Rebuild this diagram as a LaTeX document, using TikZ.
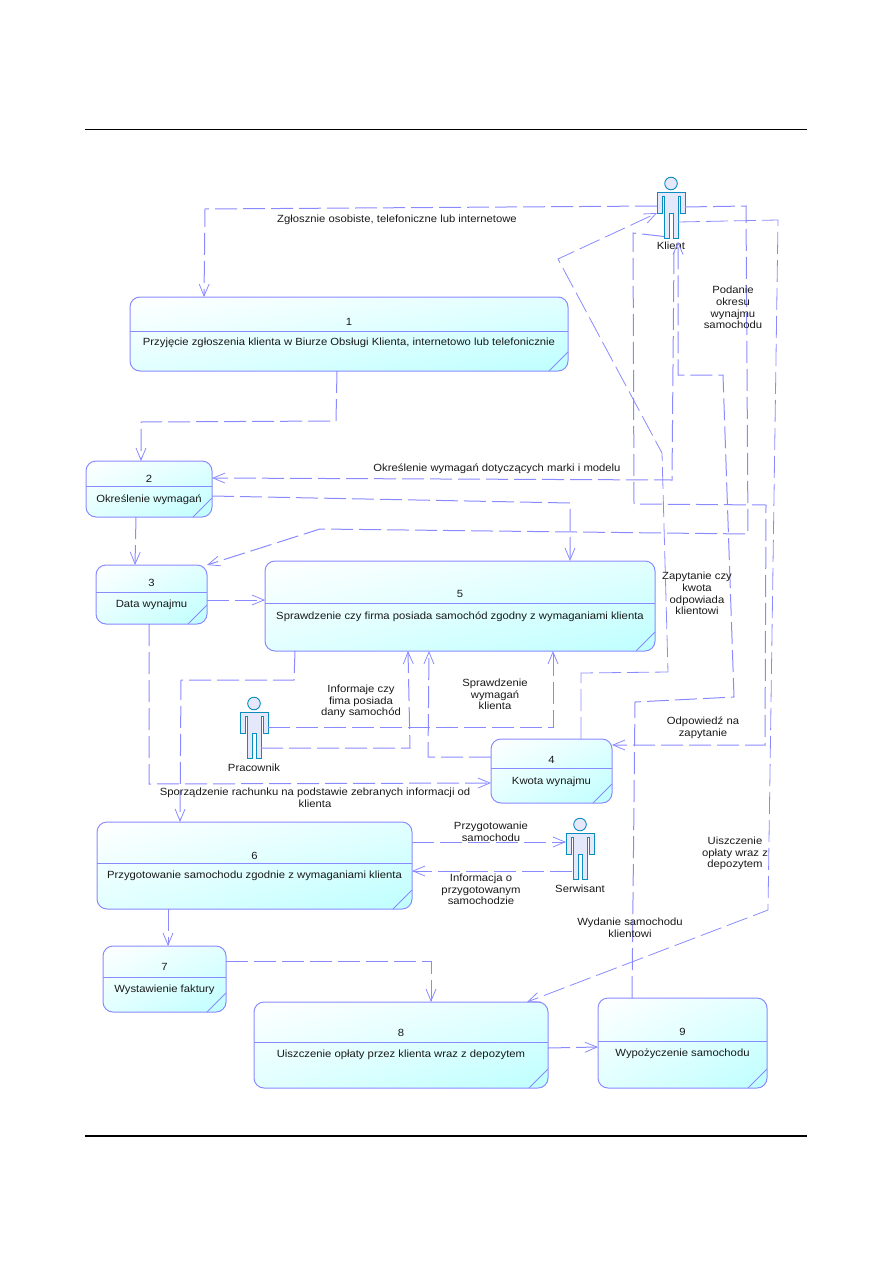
\documentclass[tikz,border=0pt]{standalone}
\usepackage{fontspec}
\setmainfont[FakeStretch=1.085]{Liberation Sans}
\usetikzlibrary{arrows.meta,calc,shadings}
\definecolor{ln}{HTML}{8A8AFF}
\definecolor{boxmid}{HTML}{E2FFFF}
\definecolor{boxend}{HTML}{BEFFFF}
\definecolor{actfill}{HTML}{E4E8FA}
\definecolor{actline}{HTML}{0A8CC0}
\tikzset{
  stbox/.style={draw=ln,line width=1pt,inner sep=0pt,outer sep=0pt,rounded corners=10pt,
    upper left=white,upper right=boxmid,lower left=boxmid,lower right=boxend},
  stline/.style={draw=ln,line width=.8pt},
  txt/.style={font=\fontsize{10.4}{11.6}\selectfont,text=black!90,inner sep=0pt,align=center,yshift=-1.5pt},
  flow/.style={draw=ln,line width=1pt,dash pattern=on 22pt off 6pt,line join=miter},
  thinflow/.style={flow,line width=.8pt},
  arr/.style={-{Straight Barb[length=12pt,width=10pt,line width=.8pt]}},
  actorbox/.style={inner sep=0pt,outer sep=0pt,minimum width=28pt,minimum height=55pt},
  rule/.style={draw=black,line cap=butt}
}
\newcommand{\stbx}[9]{%
  \node[stbox,minimum width={#4-#2},minimum height={#5-#3}] (#1) at ({(#2+#4)/2},{(#3+#5)/2}) {};
  \draw[stline] (#1.west |- 0,#6) -- (#1.east |- 0,#6);
  \draw[stline] ($(#1.south east)+(-19,0)$) -- ($(#1.south east)+(0,-19)$);
  \node[txt] (#1num) at ({(#2+#4)/2},#7) {#9};
  \node[txt] (#1txt) at ({(#2+#4)/2},#8) {\stbxtext};
}
\newcommand{\actr}[5]{% name, cx, shoulder y, label y, label
  \node[actorbox] (#1) at (#2,{#3+22}) {};
  \draw[actline,line width=.9pt,fill=actfill,shift={(#2,#3)},line join=miter]
    (-14,0)--(14,0)--(14,21)--(9,21)--(9,4)--(7,4)--(7,46)--(2,46)--(2,21)--(-2,21)--(-2,46)--(-7,46)--(-7,4)--(-9,4)--(-9,21)--(-14,21)--cycle;
  \draw[actline,line width=.9pt,fill=actfill] (#2,{#3-8.5}) circle[radius=6.3];
  \node[txt] (#1lab) at (#2,#4) {#5};
}
\begin{document}
\begin{tikzpicture}[x=1pt,y=-1pt]
\useasboundingbox (0,0) rectangle (893,1263);
\coordinate (rtl) at (85,129);
\coordinate (rtr) at (807,129);
\coordinate (rbl) at (85,1136);
\coordinate (rbr) at (807,1136);
\draw[rule,line width=1pt] (rtl) -- (rtr);
\draw[rule,line width=2pt] (rbl) -- (rbr);

% state boxes
\def\stbxtext{Przyjęcie zgłoszenia klienta w Biurze Obsługi Klienta, internetowo lub telefonicznie}
\stbx{bI}{130}{297}{568}{371}{331}{320}{341}{1}
\def\stbxtext{Określenie wymagań}
\stbx{bII}{86}{461}{212}{517}{486}{477}{498}{2}
\def\stbxtext{Data wynajmu}
\stbx{bIII}{96}{565}{207}{624}{592}{581}{603}{3}
\def\stbxtext{Sprawdzenie czy firma posiada samochód zgodny z wymaganiami klienta}
\stbx{bV}{265}{561}{655}{651}{603}{592}{615}{5}
\def\stbxtext{Kwota wynajmu}
\stbx{bIV}{491}{739}{612}{803}{768}{758}{780}{4}
\def\stbxtext{Przygotowanie samochodu zgodnie z wymaganiami klienta}
\stbx{bVI}{97}{822}{412}{909}{863}{854}{874}{6}
\def\stbxtext{Wystawienie faktury}
\stbx{bVII}{103}{946}{226}{1012}{977}{965}{988}{7}
\def\stbxtext{Uiszczenie opłaty przez klienta wraz z depozytem}
\stbx{bVIII}{254}{1002}{548}{1088}{1042}{1031}{1053}{8}
\def\stbxtext{Wypożyczenie samochodu}
\stbx{bIX}{598}{998}{767}{1088}{1041}{1030}{1052}{9}

% actors
\actr{klient}{671}{192}{244}{Klient}
\actr{pracownik}{254}{712}{766}{Pracownik}
\actr{serwisant}{580}{833}{887}{Serwisant}

% connectors
\draw[flow,arr] (klient.west |- 0,206) -- (205,209) -- (bI.north -| 204,0);
\draw[flow,arr] (klient.east |- 0,207) -- (746,206) -- (748,534) -- (320,529) -- (bIII.north east);
\draw[thinflow,arr] (klient.south east |- 0,222) ++(-7,0) -- (778,220) -- (768,910) -- (bVIII.north -| 527,0);
\draw[flow,arr] (klient.south -| 664,0) ++(0,-5) -- (633,233) -- (634,504) -- (766,505) -- (765,745) -- (bIV.east |- 0,745);
\draw[flow,arr] (klient.south |- 0,252) ++(3,0) -- (672,480) -- (bII.east |- 0,478);
\draw[flow,arr] (bIX.north -| 632,0) -- (635,702) -- (734,697) -- (723,375) -- (678,375) -- (klient.south -| 678,0);
\draw[thinflow,arr] (bIV.north -| 581,0) -- (581,673) -- (668,672) -- (662,453) -- (558,259) -- (klient.west |- 0,213);
\draw[flow,arr] (bI.south -| 337,0) -- (336,421) -- (141,422) -- (bII.north -| 141,0);
\draw[flow,arr] (bII.south -| 136,0) -- (bIII.north -| 135,0);
\draw[flow,arr] (bII.east |- 0,496) -- (570,503) -- (bV.north -| 570,0);
\draw[flow,arr] (bIII.east |- 0,600) -- (bV.west |- 0,600);
\draw[flow,arr] (bIII.south -| 149,0) -- (149,784) -- (bIV.west |- 0,783);
\draw[flow,arr] (bV.south -| 295,0) -- (294,680) -- (181,680) -- (bVI.north -| 180,0);
\draw[flow,arr] (pracownik.east |- 0,727) -- (553,727) -- (bV.south -| 553,0);
\draw[flow,arr] (pracownik.east |- 0,748) ++(-7,0) -- (410,748) -- (bV.south -| 408,0);
\draw[flow,arr] (bIV.west |- 0,757) -- (428,757) -- (bV.south -| 429,0);
\draw[flow,arr] (bVI.east |- 0,842) -- (serwisant.west |- 0,842);
\draw[flow,arr] (serwisant.west |- 0,871) ++(6,0) -- (bVI.east |- 0,871);
\draw[flow,arr] (bVI.south -| 168,0) -- (bVII.north -| 168,0);
\draw[flow,arr] (bVII.east |- 0,961) -- (431,961) -- (bVIII.north -| 431,0);
\draw[flow,arr] (bVIII.east |- 0,1048) -- (bIX.west |- 0,1047);

% labels
\node[txt] (l1) at (397,218) {Zgłosznie osobiste, telefoniczne lub internetowe};
\node[txt] (l2) at (497,467) {Określenie wymagań dotyczących marki i modelu};
\node[txt] (l3) at (733,306) {Podanie\\okresu\\wynajmu\\samochodu};
\node[txt] (l4) at (697,592) {Zapytanie czy\\kwota\\odpowiada\\klientowi};
\node[txt] (l5) at (495,693) {Sprawdzenie\\wymagań\\klienta};
\node[txt] (l6) at (361,700) {Informaje czy\\fima posiada\\dany samochód};
\node[txt] (l7) at (703,726) {Odpowiedź na\\zapytanie};
\node[txt] (l8) at (315,796) {Sporządzenie rachunku na podstawie zebranych informacji od\\klienta};
\node[txt] (l9) at (491,830) {Przygotowanie\\samochodu};
\node[txt] (l10) at (481,888) {Informacja o\\przygotowanym\\samochodzie};
\node[txt] (l11) at (735,852) {Uiszczenie\\opłaty wraz z\\depozytem};
\node[txt] (l12) at (630,926) {Wydanie samochodu\\klientowi};
\end{tikzpicture}
\end{document}
